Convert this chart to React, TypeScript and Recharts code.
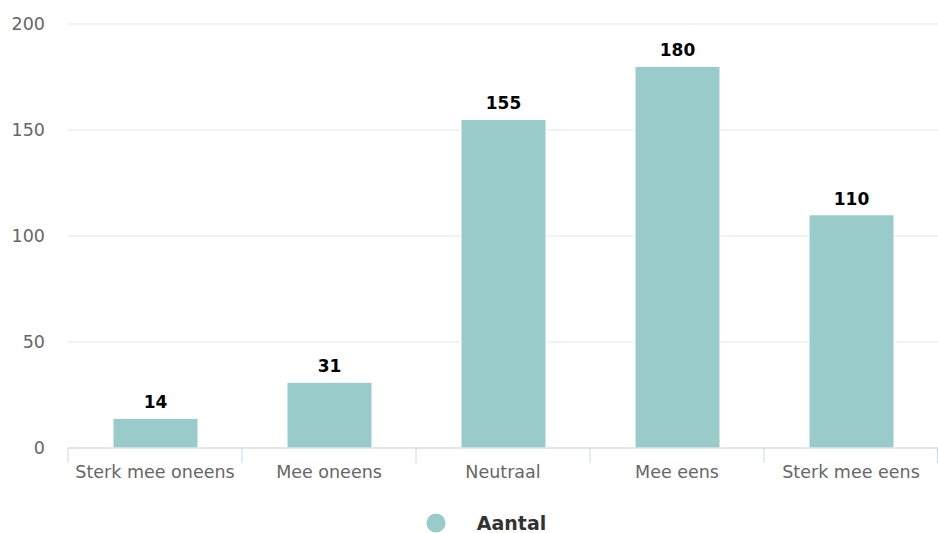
import React from "react";
import { BarChart, Bar, XAxis, YAxis, CartesianGrid, LabelList, Legend } from "recharts";

const categories = ["Sterk mee oneens", "Mee oneens", "Neutraal", "Mee eens", "Sterk mee eens"];
const counts = [14, 31, 155, 180, 110];
const yTicks = [0, 50, 100, 150, 200];
const seriesName = "Aantal";

const BAR_COLOR = "#99cbcb";
const FONT = "'DejaVu Sans', sans-serif";

const data = categories.map((c, i) => ({ name: c, value: counts[i] }));

// tick marks sit on the category boundaries, like the original
function CategoryTick(props: any) {
  const { x, y, payload, visibleTicksCount } = props;
  const half = payload.offset ?? 87;
  const last = payload.index === (visibleTicksCount ?? categories.length) - 1;
  return (
    <g>
      <line x1={x - half} y1={y} x2={x - half} y2={y + 15} stroke="#ccd6eb" />
      {last && <line x1={x + half - 0.5} y1={y} x2={x + half - 0.5} y2={y + 15} stroke="#ccd6eb" />}
      <text x={x} y={y + 30} textAnchor="middle" fill="#666666" fontSize={17.5} fontFamily={FONT}>
        {payload.value}
      </text>
    </g>
  );
}

function LegendContent(props: any) {
  const item = props.payload?.[0];
  return (
    <div
      style={{
        display: "flex",
        justifyContent: "center",
        alignItems: "center",
        fontFamily: FONT,
        marginTop: 24,
        height: 20,
        paddingLeft: 34,
      }}
    >
      <svg width={20} height={20} style={{ marginRight: 31 }}>
        <circle cx={10} cy={10} r={9.5} fill={item?.color ?? BAR_COLOR} />
      </svg>
      <span style={{ fontSize: 19, lineHeight: "19px", fontWeight: "bold", color: "#333333" }}>
        {item?.value ?? seriesName}
      </span>
    </div>
  );
}

export default function App() {
  return (
    <div style={{ position: "absolute", left: 0, top: 0 }}>
      <BarChart
        width={938}
        height={533}
        data={data}
        margin={{ top: 24, right: 0, bottom: 0, left: 0 }}
        barSize={85}
      >
        <CartesianGrid vertical={false} stroke="#e6e6e6" />
        <XAxis
          dataKey="name"
          axisLine={{ stroke: "#ccd6eb" }}
          tickLine={false}
          tickSize={0}
          tickMargin={0}
          tick={<CategoryTick />}
          interval={0}
          height={41}
        />
        <YAxis
          domain={[0, 200]}
          ticks={yTicks}
          width={68}
          axisLine={false}
          tickLine={false}
          tickSize={0}
          tickMargin={23}
          tick={{ fill: "#666666", fontSize: 17.5, fontFamily: FONT }}
        />
        <Legend verticalAlign="bottom" height={44} content={<LegendContent />} />
        <Bar dataKey="value" name={seriesName} fill={BAR_COLOR} stroke="#ffffff" strokeWidth={1} isAnimationActive={false}>
          <LabelList
            dataKey="value"
            position="top"
            offset={10}
            fill="#000000"
            fontSize={17}
            fontWeight="bold"
            fontFamily={FONT}
          />
        </Bar>
      </BarChart>
    </div>
  );
}
